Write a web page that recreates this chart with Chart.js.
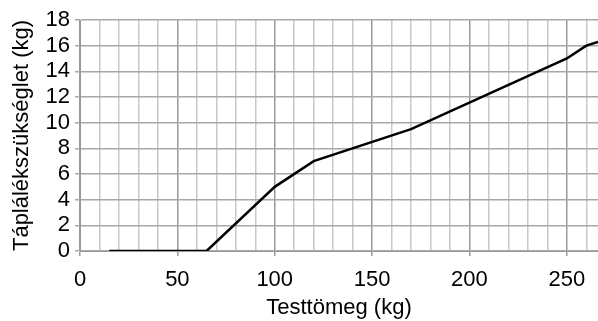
<!DOCTYPE html>
<html>
<head>
<meta charset="utf-8">
<script src="https://cdn.jsdelivr.net/npm/chart.js@4/dist/chart.umd.min.js"></script>
<style>
  html, body { margin: 0; padding: 0; background: #fff; }
  .container { width: 598px; height: 321px; position: relative; }
</style>
</head>
<body>
<div class="container"><canvas id="chart"></canvas></div>
<script>
// testtömeg (kg) és táplálékszükséglet (kg)
const bodyMass = [15, 65, 100, 120, 170, 250, 260, 266];
const foodNeed = [0, 0, 5, 7, 9.5, 15, 16, 16.3];
const xTickLabels = [0, 50, 100, 150, 200, 250];
const yTickLabels = [0, 2, 4, 6, 8, 10, 12, 14, 16, 18];

const font = { family: 'Liberation Sans, Arial, sans-serif', size: 22 };

const points = bodyMass.map((x, i) => ({ x, y: foodNeed[i] }));

new Chart(document.getElementById('chart'), {
  type: 'line',
  data: {
    datasets: [{
      data: points,
      borderColor: '#000',
      borderWidth: 2.5,
      pointRadius: 0,
      tension: 0,
      fill: false
    }]
  },
  options: {
    responsive: true,
    maintainAspectRatio: false,
    animation: false,
    layout: { padding: { top: 20, right: 0, left: 0, bottom: 0 } },
    plugins: { legend: { display: false }, tooltip: { enabled: false } },
    scales: {
      x: {
        type: 'linear',
        min: 0,
        max: 266,
        border: { color: '#999', width: 1 },
        grid: {
          color: ctx => (ctx.tick && ctx.tick.value % 50 === 0) ? '#9a9a9a' : '#c8c8c8',
          lineWidth: 1.5,
          tickLength: 5,
          tickColor: ctx => (ctx.tick && ctx.tick.value % 50 === 0) ? '#9a9a9a' : 'rgba(0,0,0,0)'
        },
        ticks: {
          stepSize: 10,
          includeBounds: false,
          autoSkip: false,
          maxRotation: 0,
          color: '#000',
          font,
          padding: 11,
          callback: v => xTickLabels.includes(v) ? String(v) : ''
        },
        title: {
          display: true,
          text: 'Testtömeg (kg)',
          color: '#000',
          font,
          padding: { top: 0, bottom: 0 }
        },
        afterFit: scale => { scale.height = 70; }
      },
      y: {
        min: 0,
        max: 18,
        border: { color: '#999', width: 1 },
        grid: {
          color: '#a8a8a8',
          lineWidth: 1.5,
          tickLength: 5,
          tickColor: '#a8a8a8'
        },
        ticks: {
          stepSize: 2,
          autoSkip: false,
          color: '#000',
          font,
          padding: 5,
          callback: v => yTickLabels.includes(v) ? String(v) : ''
        },
        title: {
          display: true,
          text: 'Táplálékszükséglet (kg)',
          color: '#000',
          font,
          padding: { top: 9, bottom: 4 }
        },
        afterFit: scale => { scale.width = 80; }
      }
    }
  }
});
</script>
</body>
</html>
